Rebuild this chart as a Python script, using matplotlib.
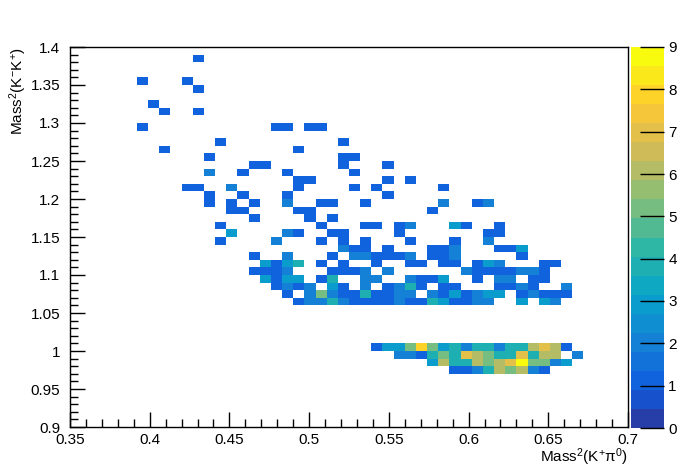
import numpy as np
import matplotlib
matplotlib.use("Agg")
import matplotlib.pyplot as plt
from matplotlib.colors import LinearSegmentedColormap, ListedColormap, BoundaryNorm
from matplotlib.ticker import MultipleLocator, FuncFormatter

plt.rcParams['font.family'] = ['Liberation Sans', 'DejaVu Sans']
plt.rcParams['mathtext.fontset'] = 'custom'
plt.rcParams['mathtext.rm'] = 'Liberation Sans'
plt.rcParams['mathtext.default'] = 'regular'

# filled bins of the Dalitz histogram: bin centre (m2 K+pi0, m2 K-K+) and entries
m2_kpi = [
    0.4305,
    0.3955, 0.4235,
    0.4305,
    0.4025,
    0.4095, 0.4305,
    0.3955, 0.4795, 0.4865, 0.5005, 0.5075,
    0.4445, 0.5215,
    0.4095, 0.4935,
    0.4375, 0.5215, 0.5285,
    0.4655, 0.4725, 0.5215, 0.5495,
    0.4375, 0.4585, 0.4865, 0.5285,
    0.4935, 0.5005, 0.5495, 0.5635,
    0.4235, 0.4305, 0.4515, 0.4935, 0.5285, 0.5425, 0.5845,
    0.4375, 0.4585, 0.4865, 0.5495,
    0.4375, 0.4515, 0.4655, 0.4865, 0.5075, 0.5145, 0.5355, 0.5845, 0.6055, 0.6125,
    0.4515, 0.4585, 0.4935, 0.5005, 0.5775,
    0.4655, 0.5005, 0.5145,
    0.4445, 0.5075, 0.5355, 0.5425, 0.5565, 0.5635, 0.5915, 0.5985, 0.6195,
    0.4515, 0.4865, 0.4935, 0.5145, 0.5215, 0.5565, 0.6125, 0.6195,
    0.4445, 0.4795, 0.5075, 0.5215, 0.5355, 0.5635, 0.5915, 0.6125,
    0.5215, 0.5285, 0.5355, 0.5495, 0.5775, 0.5845, 0.5915, 0.6195, 0.6265, 0.6335,
    0.4655, 0.4865, 0.5145, 0.5285, 0.5355, 0.5425, 0.5495, 0.5565, 0.5635, 0.5775,
    0.5845, 0.5915, 0.6335,
    0.4725, 0.4795, 0.4865, 0.4935, 0.5075, 0.5215, 0.5425, 0.5635, 0.5705, 0.5845,
    0.5915, 0.6055, 0.6125, 0.6195, 0.6475, 0.6545,
    0.4655, 0.4725, 0.4795, 0.4865, 0.5145, 0.5215, 0.5285, 0.5355, 0.5495, 0.5985,
    0.6055, 0.6125, 0.6195, 0.6265, 0.6335, 0.6405, 0.6475,
    0.4725, 0.4795, 0.4865, 0.4935, 0.5075, 0.5145, 0.5355, 0.5425, 0.5635, 0.5705,
    0.5775, 0.5845, 0.6055, 0.6195, 0.6265, 0.6405, 0.6475,
    0.4795, 0.4865, 0.4935, 0.5005, 0.5145, 0.5215, 0.5355, 0.5495, 0.5565, 0.5635,
    0.5705, 0.5845, 0.5915, 0.6195, 0.6265, 0.6335, 0.6405, 0.6615,
    0.4865, 0.5005, 0.5075, 0.5145, 0.5215, 0.5285, 0.5355, 0.5425, 0.5495, 0.5565,
    0.5635, 0.5775, 0.5845, 0.5915, 0.5985, 0.6055, 0.6125, 0.6195, 0.6335, 0.6405,
    0.6475, 0.6545, 0.6615,
    0.4935, 0.5005, 0.5075, 0.5145, 0.5215, 0.5285, 0.5355, 0.5425, 0.5495, 0.5565,
    0.5635, 0.5705, 0.5775, 0.5845, 0.5915, 0.5985, 0.6055, 0.6125, 0.6335, 0.6475,
    0.6545,
    0.5425, 0.5495, 0.5565, 0.5635, 0.5705, 0.5775, 0.5845, 0.5915, 0.5985, 0.6055,
    0.6125, 0.6195, 0.6265, 0.6335, 0.6405, 0.6475, 0.6545, 0.6615,
    0.5565, 0.5635, 0.5705, 0.5775, 0.5845, 0.5915, 0.5985, 0.6055, 0.6125, 0.6195,
    0.6265, 0.6335, 0.6405, 0.6475, 0.6545, 0.6685,
    0.5775, 0.5845, 0.5915, 0.5985, 0.6055, 0.6125, 0.6195, 0.6265, 0.6335, 0.6405,
    0.6475, 0.6545, 0.6615,
    0.5915, 0.5985, 0.6055, 0.6125, 0.6195, 0.6265, 0.6335, 0.6405, 0.6475,
]
m2_kk = (
    [1.385] * 1 + [1.355] * 2 + [1.345] * 1 + [1.325] * 1 + [1.315] * 2
    + [1.295] * 5 + [1.275] * 2 + [1.265] * 2 + [1.255] * 3 + [1.245] * 4
    + [1.235] * 4 + [1.225] * 4 + [1.215] * 7 + [1.205] * 4 + [1.195] * 10
    + [1.185] * 5 + [1.175] * 3 + [1.165] * 9 + [1.155] * 8 + [1.145] * 8
    + [1.135] * 10 + [1.125] * 13 + [1.115] * 16 + [1.105] * 17 + [1.095] * 17
    + [1.085] * 18 + [1.075] * 23 + [1.065] * 21
    + [1.005] * 18 + [0.995] * 16 + [0.985] * 13 + [0.975] * 9
)
entries = [
    1,
    1, 1,
    1,
    1,
    1, 1,
    1, 1, 1, 1, 1,
    1, 1,
    1, 1,
    1, 1, 1,
    1, 1, 1, 1,
    2, 1, 1, 1,
    1, 1, 1, 1,
    1, 1, 2, 1, 1, 1, 1,
    1, 1, 1, 1,
    1, 1, 1, 2, 1, 1, 1, 2, 1, 2,
    1, 1, 1, 1, 1,
    1, 1, 1,
    1, 1, 1, 1, 1, 2, 3, 1, 1,
    3, 2, 1, 1, 1, 1, 1, 1,
    1, 2, 1, 1, 1, 1, 1, 2,
    2, 1, 1, 1, 1, 1, 2, 1, 1, 3,
    1, 2, 1, 2, 2, 1, 1, 1, 2, 1,
    1, 2, 1,
    3, 1, 3, 4, 1, 1, 1, 1, 1, 1,
    1, 1, 3, 2, 1, 1,
    1, 1, 1, 2, 1, 1, 1, 2, 2, 2,
    1, 1, 1, 1, 2, 2, 1,
    3, 1, 3, 3, 1, 4, 2, 2, 2, 1,
    1, 3, 1, 2, 2, 1, 1,
    1, 2, 1, 2, 3, 1, 2, 1, 2, 4,
    1, 1, 1, 1, 1, 2, 1, 2,
    1, 2, 5, 2, 1, 1, 4, 1, 1, 2,
    2, 2, 1, 3, 1, 2, 3, 3, 1, 2,
    1, 1, 1,
    1, 2, 2, 4, 2, 1, 1, 1, 1, 2,
    1, 1, 4, 3, 1, 1, 2, 2, 3, 3,
    2,
    1, 3, 3, 5, 8, 5, 3, 4, 2, 4,
    4, 2, 4, 4, 6, 7, 6, 1,
    2, 2, 1, 4, 5, 4, 7, 6, 5, 4,
    4, 7, 4, 6, 6, 2,
    3, 6, 4, 4, 6, 5, 6, 7, 9, 5,
    5, 2, 3,
    1, 1, 2, 4, 6, 5, 6, 2, 1,
]

x_range = (0.35, 0.7)
y_range = (0.9, 1.4)
n_bins = 50
z_max = 9
n_contours = 20

# ROOT kBird palette
bird_stops = [0.0, 0.125, 0.25, 0.375, 0.5, 0.625, 0.75, 0.875, 1.0]
bird_r = [0.2082, 0.0592, 0.0780, 0.0232, 0.1802, 0.5301, 0.8186, 0.9956, 0.9764]
bird_g = [0.1664, 0.3599, 0.5041, 0.6419, 0.7178, 0.7492, 0.7328, 0.7862, 0.9832]
bird_b = [0.5293, 0.8684, 0.8385, 0.7914, 0.6425, 0.4662, 0.3499, 0.1968, 0.0539]
bird = LinearSegmentedColormap.from_list(
    'bird', list(zip(bird_stops, zip(bird_r, bird_g, bird_b))))
cmap = ListedColormap([bird((k + 0.99) / n_contours) for k in range(n_contours)])
levels = np.linspace(0, z_max, n_contours + 1)
norm = BoundaryNorm(levels, cmap.N)

H, xe, ye = np.histogram2d(m2_kpi, m2_kk, bins=[n_bins, n_bins],
                           range=[x_range, y_range], weights=entries)
H = np.ma.masked_equal(H.T, 0)

W, Hpx = 698, 476
fig = plt.figure(figsize=(W / 100, Hpx / 100), dpi=100)
ax = fig.add_axes([70 / W, 1 - 427 / Hpx, 558 / W, 380 / Hpx])
mesh = ax.pcolormesh(xe, ye, H, cmap=cmap, norm=norm)

ax.set_xlim(*x_range)
ax.set_ylim(*y_range)
ax.xaxis.set_major_locator(MultipleLocator(0.05))
ax.xaxis.set_minor_locator(MultipleLocator(0.01))
ax.yaxis.set_major_locator(MultipleLocator(0.05))
ax.yaxis.set_minor_locator(MultipleLocator(0.01))
fmt = FuncFormatter(lambda v, p: f'{v:.2f}'.rstrip('0').rstrip('.'))
ax.xaxis.set_major_formatter(fmt)
ax.yaxis.set_major_formatter(fmt)
ax.tick_params(which='both', direction='in', top=False, right=False,
               labelsize=11, width=1, color='black')
ax.tick_params(which='major', length=11)
ax.tick_params(which='minor', length=5.5)
ax.tick_params(axis='x', pad=4)
ax.tick_params(axis='y', pad=7)
for s in ax.spines.values():
    s.set_linewidth(1)

cax = fig.add_axes([631 / W, 1 - 428 / Hpx, 33 / W, 381 / Hpx])
cb = fig.colorbar(mesh, cax=cax, ticks=range(0, z_max + 1))
cb.outline.set_visible(False)
cax.minorticks_off()
cax.tick_params(direction='in', length=17, width=1, color='black',
                labelsize=11, pad=3)

fig.text(628 / W, 1 - 457 / Hpx, r'Mass$^{2}$(K$^{+}$π$^{0}$)',
         ha='right', va='center', fontsize=11)
fig.text(18 / W, 1 - 47 / Hpx, r'Mass$^{2}$(K$^{-}$K$^{+}$)',
         ha='center', va='top', rotation=90, fontsize=11)

fig.savefig('out.png', dpi=100)
